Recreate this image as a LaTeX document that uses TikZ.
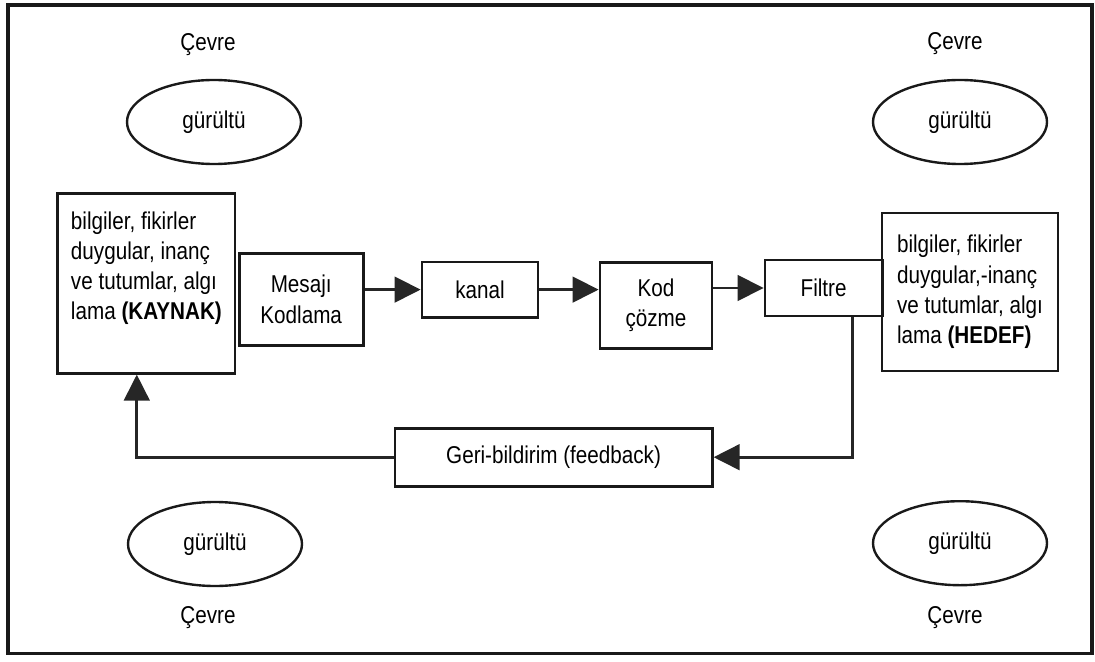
\documentclass[tikz,border=0pt]{standalone}
\usepackage{fontspec}
\setmainfont{Liberation Sans}[FakeStretch=0.85]
\usetikzlibrary{arrows.meta,calc,shapes.geometric}

\tikzset{
    box/.style={draw=black!90, line width=2pt, align=center, inner sep=2pt},
    noise/.style={draw=black!90, line width=1.7pt, ellipse, minimum width=4.35cm, minimum height=2.1cm},
    flow/.style={draw=black!90, line width=2pt, -{Triangle[length=0.65cm, width=0.64cm]}, black!85}
}

\begin{document}
\begin{tikzpicture}[font=\fontsize{17.3}{21.5}\selectfont]
    %page and frame
        \useasboundingbox (0,0) rectangle (27.375,-16.55);
        \draw[black!90, line width=2.4pt] (0.2,-0.125) rectangle (27.3,-16.33);

    %noise ellipses and surroundings
        \node[noise] (g1) at (5.35,-3.05) {gürültü};
        \node[noise] (g2) at (24.0,-3.05) {gürültü};
        \node[noise] (g3) at (5.375,-13.6) {gürültü};
        \node[noise] (g4) at (24.0,-13.58) {gürültü};
        \node (c1) at (5.2,-1.125) {Çevre};
        \node (c2) at (23.875,-1.08) {Çevre};
        \node (c3) at (5.2,-15.43) {Çevre};
        \node (c4) at (23.875,-15.43) {Çevre};

    %communication chain
        \node[box, align=left, text depth=0.87cm, minimum width=4.43cm, minimum height=4.5cm] (kaynak) at (3.66,-7.08)
            {bilgiler, fikirler\\duygular, inanç\\ve tutumlar, algı\\lama \textbf{(KAYNAK)}};
        \node[box, minimum width=3.1cm, minimum height=2.3cm] (mesaj) at (7.53,-7.48) {Mesajı\\Kodlama};
        \node[box, minimum width=2.9cm, minimum height=1.38cm] (kanal) at (12.0,-7.24) {kanal};
        \node[box, minimum width=2.8cm, minimum height=2.15cm] (kod) at (16.4,-7.63) {Kod\\çözme};
        \node[box, minimum width=2.93cm, minimum height=1.4cm] (filtre) at (20.59,-7.2) {Filtre};
        \node[box, align=left, minimum width=4.4cm, minimum height=3.95cm] (hedef) at (24.25,-7.3)
            {bilgiler, fikirler\\duygular,-inanç\\ve tutumlar, algı\\lama \textbf{(HEDEF)}};
        \node[box, minimum width=7.93cm, minimum height=1.45cm] (geri) at (13.84,-11.43) {Geri-bildirim (feedback)};

    %arrows
        \draw[flow] (mesaj.east |- kanal.west) -- (kanal.west);
        \draw[flow] (kanal.east) -- (kod.west |- kanal.east);
        \draw[flow] (kod.east |- filtre.west) -- (filtre.west);
        \coordinate (ret) at ([xshift=0.72cm]filtre.south);
        \coordinate (back) at ([xshift=-0.24cm]kaynak.south);
        \draw[flow] (ret) |- (geri.east);
        \draw[flow] (geri.west) -| (back);

\end{tikzpicture}
\end{document}
